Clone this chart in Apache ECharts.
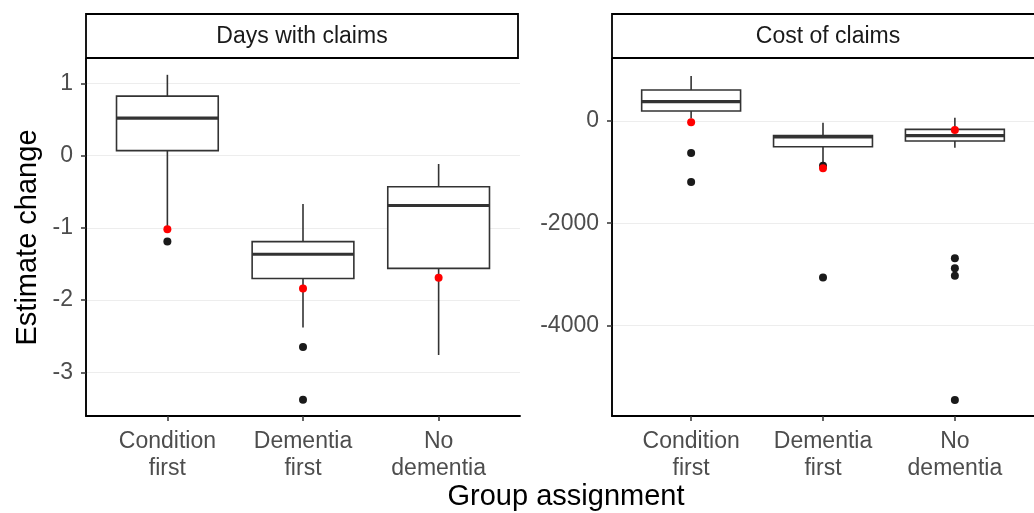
<!DOCTYPE html>
<html><head><meta charset="utf-8">
<script src="https://cdn.jsdelivr.net/npm/echarts@6/dist/echarts.min.js"></script>
<style>html,body{margin:0;padding:0;background:#fff}#c{width:1034px;height:513px}</style>
</head><body><div id="c"></div>
<script>
const categories = ['Condition\nfirst', 'Dementia\nfirst', 'No\ndementia'];
const panelTitles = ['Days with claims', 'Cost of claims'];
const xTitle = 'Group assignment';
const yTitle = 'Estimate change';
// per group: [whisker low, Q1, median, Q3, whisker high]
const daysBox = [
  [-1.02, 0.07, 0.52, 0.825, 1.12],
  [-2.38, -1.70, -1.365, -1.19, -0.67],
  [-2.76, -1.56, -0.69, -0.43, -0.115]
];
const daysOutliers = [[1, -1.19], [2, -2.65], [2, -3.38]];
const daysEstimate = [-1.02, -1.84, -1.69];
const daysTicks = [-3, -2, -1, 0, 1];

const costBox = [
  [50, 196, 378, 607, 880],
  [-861, -503, -312, -285, -33],
  [-522, -391, -288, -163, 65]
];
const costOutliers = [[1, -626], [1, -1194], [2, -875], [2, -3066], [3, -2687], [3, -2883], [3, -3027], [3, -5460]];
const costEstimate = [-25, -926, -176];
const costTicks = [-4000, -2000, 0];

const FONT = '"Liberation Sans", Arial, Helvetica, sans-serif';
const groupPos = [1, 2, 3];

function renderBox(params, api) {
  const x = api.value(0);
  const pLo = api.coord([x, api.value(1)]);
  const pQ1 = api.coord([x, api.value(2)]);
  const pMed = api.coord([x, api.value(3)]);
  const pQ3 = api.coord([x, api.value(4)]);
  const pHi = api.coord([x, api.value(5)]);
  const half = api.size([0.75, 0])[0] / 2;
  const cx = pLo[0];
  const ls = { stroke: '#333333', lineWidth: 1.6 };
  return {
    type: 'group',
    children: [
      { type: 'line', shape: { x1: cx, y1: pHi[1], x2: cx, y2: pQ3[1] }, style: ls },
      { type: 'line', shape: { x1: cx, y1: pQ1[1], x2: cx, y2: pLo[1] }, style: ls },
      { type: 'rect', shape: { x: cx - half, y: pQ3[1], width: 2 * half, height: pQ1[1] - pQ3[1] },
        style: { fill: '#ffffff', stroke: '#333333', lineWidth: 1.6 } },
      { type: 'line', shape: { x1: cx - half, y1: pMed[1], x2: cx + half, y2: pMed[1] },
        style: { stroke: '#333333', lineWidth: 3.2 } }
    ]
  };
}

function xAxisFor(gi) {
  return {
    type: 'value', gridIndex: gi, min: 0.4, max: 3.6,
    axisLine: { show: true, onZero: false, lineStyle: { color: '#000000', width: 1.9 } },
    axisTick: { show: true, customValues: groupPos, length: 5, lineStyle: { color: '#333333', width: 1.5 } },
    axisLabel: { customValues: groupPos, formatter: v => categories[Math.round(v) - 1],
      color: '#4d4d4d', fontSize: 23, lineHeight: 27, margin: 12, fontFamily: FONT },
    splitLine: { show: false }
  };
}
function yAxisFor(gi, min, max, ticks, extra) {
  return Object.assign({
    type: 'value', gridIndex: gi, min: min, max: max,
    axisLine: { show: true, onZero: false, lineStyle: { color: '#000000', width: 1.9 } },
    axisTick: { show: true, customValues: ticks, length: 5, lineStyle: { color: '#333333', width: 1.5 } },
    axisLabel: { customValues: ticks, formatter: v => String(v), color: '#4d4d4d', fontSize: 23,
      margin: 13, fontFamily: FONT },
    splitLine: { show: true, lineStyle: { color: '#ededed', width: 1 } }
  }, extra || {});
}

const chart = echarts.init(document.getElementById('c'));
chart.setOption({
  backgroundColor: '#ffffff',
  animation: false,
  grid: [
    { left: 86, top: 59, width: 434, height: 357 },
    { left: 612, top: 59, width: 434, height: 357 }
  ],
  xAxis: [xAxisFor(0), xAxisFor(1)],
  yAxis: [
    yAxisFor(0, -3.605, 1.339, daysTicks, {
      name: yTitle, nameLocation: 'middle', nameGap: 44,
      nameTextStyle: { color: '#000000', fontSize: 29, fontFamily: FONT }
    }),
    yAxisFor(1, -5775, 1214, costTicks)
  ],
  graphic: [
    { type: 'rect', shape: { x: 86, y: 14, width: 432, height: 44 },
      style: { fill: '#ffffff', stroke: '#000000', lineWidth: 1.8 } },
    { type: 'text', x: 302, y: 37, style: { text: panelTitles[0], fill: '#1a1a1a', fontSize: 23,
      fontFamily: FONT, align: 'center', verticalAlign: 'middle' } },
    { type: 'rect', shape: { x: 612, y: 14, width: 432, height: 44 },
      style: { fill: '#ffffff', stroke: '#000000', lineWidth: 1.8 } },
    { type: 'text', x: 828, y: 37, style: { text: panelTitles[1], fill: '#1a1a1a', fontSize: 23,
      fontFamily: FONT, align: 'center', verticalAlign: 'middle' } },
    { type: 'text', x: 566, y: 497, style: { text: xTitle, fill: '#000000', fontSize: 29,
      fontFamily: FONT, align: 'center', verticalAlign: 'middle' } }
  ],
  series: [
    { type: 'custom', xAxisIndex: 0, yAxisIndex: 0, renderItem: renderBox,
      encode: { x: 0, y: [1, 2, 3, 4, 5] },
      data: daysBox.map((b, i) => [groupPos[i]].concat(b)), z: 2 },
    { type: 'scatter', xAxisIndex: 0, yAxisIndex: 0, symbolSize: 8,
      itemStyle: { color: '#1a1a1a', opacity: 1 }, data: daysOutliers, z: 3 },
    { type: 'scatter', xAxisIndex: 0, yAxisIndex: 0, symbolSize: 8,
      itemStyle: { color: '#ff0000', opacity: 1 }, data: daysEstimate.map((v, i) => [groupPos[i], v]), z: 4 },
    { type: 'custom', xAxisIndex: 1, yAxisIndex: 1, renderItem: renderBox,
      encode: { x: 0, y: [1, 2, 3, 4, 5] },
      data: costBox.map((b, i) => [groupPos[i]].concat(b)), z: 2 },
    { type: 'scatter', xAxisIndex: 1, yAxisIndex: 1, symbolSize: 8,
      itemStyle: { color: '#1a1a1a', opacity: 1 }, data: costOutliers, z: 3 },
    { type: 'scatter', xAxisIndex: 1, yAxisIndex: 1, symbolSize: 8,
      itemStyle: { color: '#ff0000', opacity: 1 }, data: costEstimate.map((v, i) => [groupPos[i], v]), z: 4 }
  ]
});
</script>
</body></html>
